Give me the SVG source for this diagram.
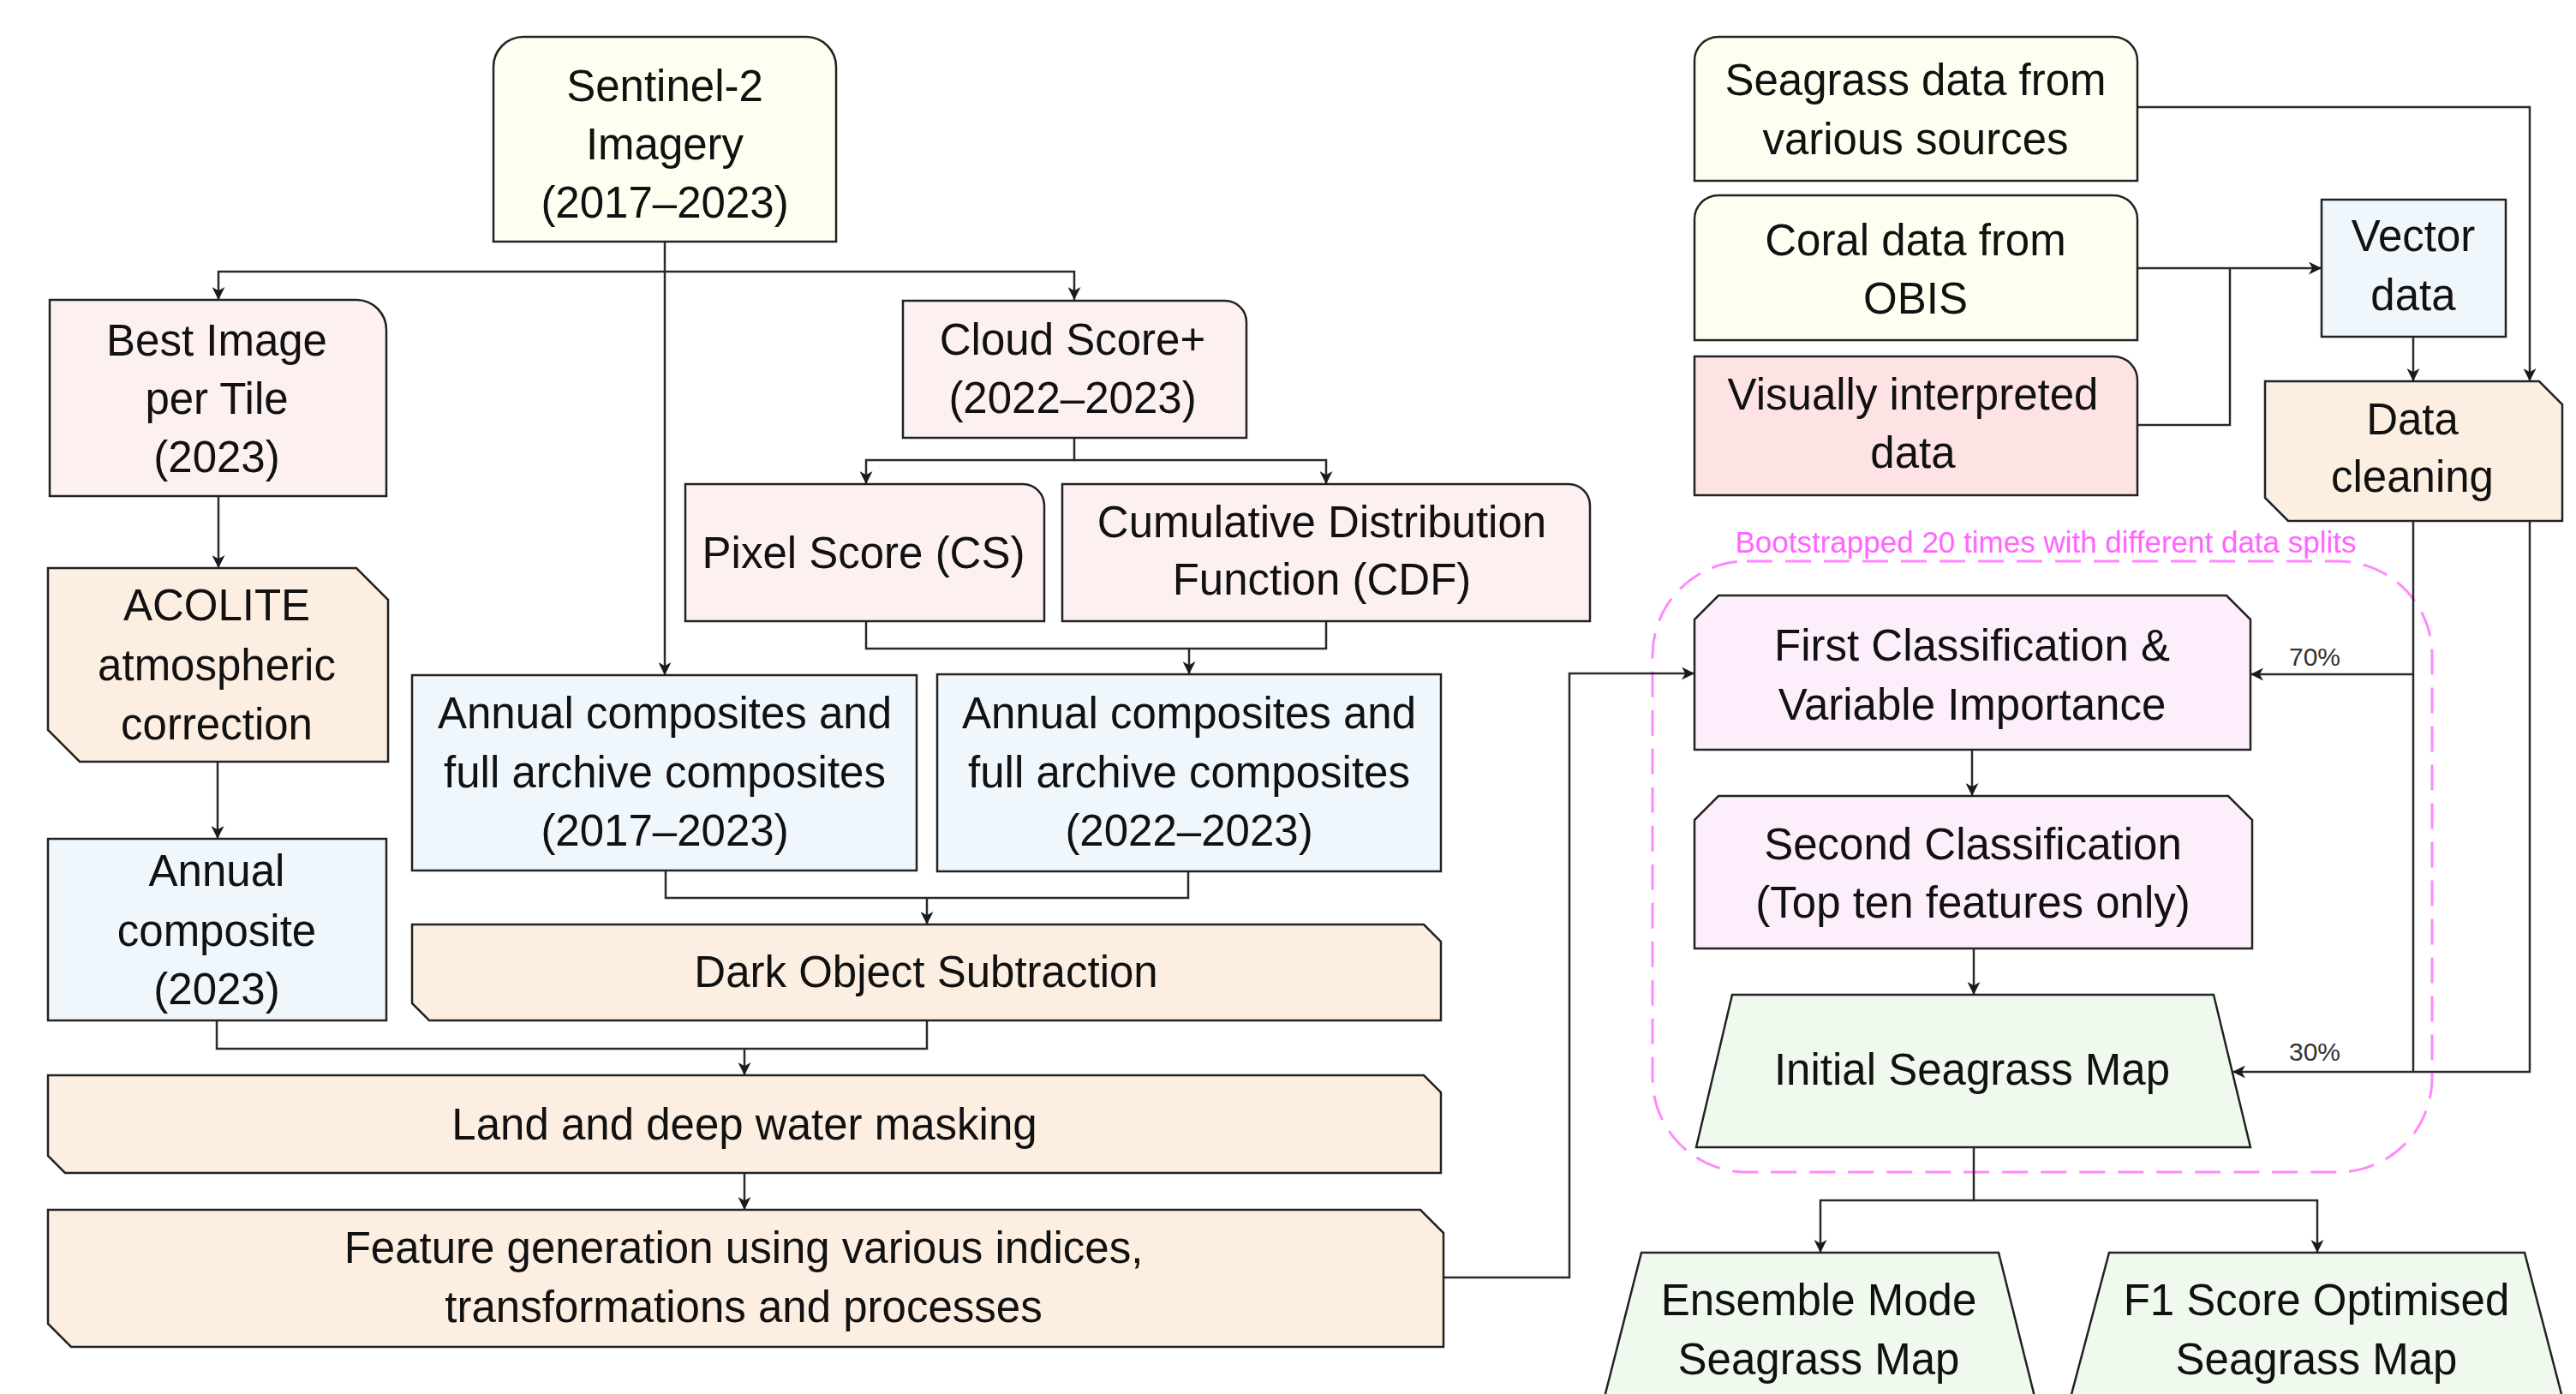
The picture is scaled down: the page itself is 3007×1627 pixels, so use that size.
<svg xmlns="http://www.w3.org/2000/svg" width="3007" height="1627" viewBox="0 0 3007 1627">
<defs>
<style>
.n{stroke:#222;stroke-width:2.5;stroke-linejoin:miter}
.t{font-family:"Liberation Sans",Arial,sans-serif;font-size:51px;fill:#111;text-anchor:middle}
.s{font-family:"Liberation Sans",Arial,sans-serif;font-size:30px;fill:#333;text-anchor:middle}
.yel{fill:#FEFEF1}.pnk{fill:#FDF0F0}.org{fill:#FDEEE2}.blu{fill:#EFF6FC}.red{fill:#FDE3E4}.pur{fill:#FDEEFC}.grn{fill:#EFF9EE}
.c{fill:none;stroke:#2a2a2a;stroke-width:2.5}
.a{marker-end:url(#arr)}
</style>
<marker id="arr" viewBox="0 0 14 14" refX="14" refY="7" markerWidth="15" markerHeight="15" markerUnits="userSpaceOnUse" orient="auto">
<path d="M0,0 L14,7 L0,14 L4,7 Z" fill="#1a1a1a"/>
</marker>
</defs>
<rect width="3007" height="1627" fill="#fff"/>

<g id="bootstrap">
<rect x="1929" y="655" width="910" height="713" rx="110" ry="110" fill="none" stroke="#FF88FF" stroke-width="3" stroke-dasharray="30,15"/>
<text x="2388" y="645" font-family="Liberation Sans, Arial, sans-serif" font-size="35" fill="#FF66FF" text-anchor="middle">Bootstrapped 20 times with different data splits</text>
</g>

<g id="connectors">
<path class="c a" d="M776,282 V317 H255 V350"/>
<path class="c a" d="M776,317 H1254 V350"/>
<path class="c a" d="M776,317 V788"/>
<path class="c a" d="M255,579 V663"/>
<path class="c a" d="M254,889 V979"/>
<path class="c a" d="M1254,511 V537 H1011 V565"/>
<path class="c a" d="M1254,537 H1548 V565"/>
<path class="c" d="M1011,725 V757 H1548 V725"/>
<path class="c a" d="M1388,757 V787"/>
<path class="c" d="M777,1016 V1048 H1387 V1017"/>
<path class="c a" d="M1082,1048 V1079"/>
<path class="c" d="M253,1191 V1224 H1082 V1191"/>
<path class="c a" d="M869,1224 V1255"/>
<path class="c a" d="M869,1369 V1412"/>
<path class="c a" d="M1685,1491 H1832 V786 H1978"/>
<path class="c a" d="M2495,125 H2953 V445"/>
<path class="c a" d="M2495,313 H2710"/>
<path class="c" d="M2495,496 H2603 V313"/>
<path class="c a" d="M2817,393 V445"/>
<path class="c" d="M2817,608 V1251"/>
<path class="c a" d="M2817,787 H2627"/>
<path class="c a" d="M2953,608 V1251 H2606"/>
<path class="c a" d="M2302,875 V929"/>
<path class="c a" d="M2304,1107 V1161"/>
<path class="c a" d="M2304,1339 V1401 H2125 V1462"/>
<path class="c a" d="M2304,1401 H2705 V1462"/>
<text class="s" x="2702" y="777">70%</text>
<text class="s" x="2702" y="1238">30%</text>
</g>

<g id="sentinel">
<path class="n yel" d="M576,282 V78 A35,35 0 0 1 611,43 H941 A35,35 0 0 1 976,78 V282 Z"/>
<text class="t" x="776" y="118">Sentinel-2</text>
<text class="t" x="776" y="186">Imagery</text>
<text class="t" x="776" y="254">(2017–2023)</text>
</g>

<g id="best-image">
<path class="n pnk" d="M58,579 V350 H416 A35,35 0 0 1 451,385 V579 Z"/>
<text class="t" x="253" y="415">Best Image</text>
<text class="t" x="253" y="483">per Tile</text>
<text class="t" x="253" y="551">(2023)</text>
</g>

<g id="acolite">
<path class="n org" d="M56,663 H416 L453,700 V889 H93 L56,852 Z"/>
<text class="t" x="253" y="724">ACOLITE</text>
<text class="t" x="253" y="794">atmospheric</text>
<text class="t" x="253" y="863">correction</text>
</g>

<g id="annual-composite-2023">
<rect class="n blu" x="56" y="979" width="395" height="212"/>
<text class="t" x="253" y="1034">Annual</text>
<text class="t" x="253" y="1104">composite</text>
<text class="t" x="253" y="1172">(2023)</text>
</g>

<g id="cloud-score">
<path class="n pnk" d="M1054,511 V351 H1430 A25,25 0 0 1 1455,376 V511 Z"/>
<text class="t" x="1252" y="414">Cloud Score+</text>
<text class="t" x="1252" y="482">(2022–2023)</text>
</g>

<g id="pixel-score">
<path class="n pnk" d="M800,725 V565 H1194 A25,25 0 0 1 1219,590 V725 Z"/>
<text class="t" x="1008" y="663">Pixel Score (CS)</text>
</g>

<g id="cdf">
<path class="n pnk" d="M1240,725 V565 H1831 A25,25 0 0 1 1856,590 V725 Z"/>
<text class="t" x="1543" y="627">Cumulative Distribution</text>
<text class="t" x="1543" y="694">Function (CDF)</text>
</g>

<g id="annual-2017-2023">
<rect class="n blu" x="481" y="788" width="589" height="228"/>
<text class="t" x="776" y="850">Annual composites and</text>
<text class="t" x="776" y="919">full archive composites</text>
<text class="t" x="776" y="987">(2017–2023)</text>
</g>

<g id="annual-2022-2023">
<rect class="n blu" x="1094" y="787" width="588" height="230"/>
<text class="t" x="1388" y="850">Annual composites and</text>
<text class="t" x="1388" y="919">full archive composites</text>
<text class="t" x="1388" y="987">(2022–2023)</text>
</g>

<g id="dark-object">
<path class="n org" d="M481,1079 H1662 L1682,1099 V1191 H501 L481,1171 Z"/>
<text class="t" x="1081" y="1152">Dark Object Subtraction</text>
</g>

<g id="land-masking">
<path class="n org" d="M56,1255 H1662 L1682,1275 V1369 H76 L56,1349 Z"/>
<text class="t" x="869" y="1330">Land and deep water masking</text>
</g>

<g id="feature-generation">
<path class="n org" d="M56,1412 H1658 L1685,1439 V1572 H83 L56,1545 Z"/>
<text class="t" x="868" y="1474">Feature generation using various indices,</text>
<text class="t" x="868" y="1543">transformations and processes</text>
</g>

<g id="seagrass-data">
<path class="n yel" d="M1978,211 V71 A28,28 0 0 1 2006,43 H2467 A28,28 0 0 1 2495,71 V211 Z"/>
<text class="t" x="2236" y="111">Seagrass data from</text>
<text class="t" x="2236" y="180">various sources</text>
</g>

<g id="coral-data">
<path class="n yel" d="M1978,397 V256 A28,28 0 0 1 2006,228 H2467 A28,28 0 0 1 2495,256 V397 Z"/>
<text class="t" x="2236" y="298">Coral data from</text>
<text class="t" x="2236" y="366">OBIS</text>
</g>

<g id="visual-data">
<path class="n red" d="M1978,578 V416 H2467 A28,28 0 0 1 2495,444 V578 Z"/>
<text class="t" x="2233" y="478">Visually interpreted</text>
<text class="t" x="2233" y="546">data</text>
</g>

<g id="vector-data">
<rect class="n blu" x="2710" y="233" width="215" height="160"/>
<text class="t" x="2817" y="293">Vector</text>
<text class="t" x="2817" y="362">data</text>
</g>

<g id="data-cleaning">
<path class="n org" d="M2644,445 H2964 L2991,472 V608 H2671 L2644,581 Z"/>
<text class="t" x="2816" y="507">Data</text>
<text class="t" x="2816" y="574">cleaning</text>
</g>

<g id="first-classification">
<path class="n pur" d="M1978,875 V723 L2006,695 H2599 L2627,723 V875 Z"/>
<text class="t" x="2302" y="771">First Classification &amp;</text>
<text class="t" x="2302" y="840">Variable Importance</text>
</g>

<g id="second-classification">
<path class="n pur" d="M1978,1107 V957 L2006,929 H2601 L2629,957 V1107 Z"/>
<text class="t" x="2303" y="1003">Second Classification</text>
<text class="t" x="2303" y="1071">(Top ten features only)</text>
</g>

<g id="initial-map">
<path class="n grn" d="M2022,1161 H2584 L2627,1339 H1980 Z"/>
<text class="t" x="2302" y="1266">Initial Seagrass Map</text>
</g>

<g id="ensemble-map">
<path class="n grn" d="M1916,1462 H2333 L2380,1650 H1868 Z"/>
<text class="t" x="2123" y="1535">Ensemble Mode</text>
<text class="t" x="2123" y="1604">Seagrass Map</text>
</g>

<g id="f1-map">
<path class="n grn" d="M2462,1462 H2947 L2996,1650 H2412 Z"/>
<text class="t" x="2704" y="1535">F1 Score Optimised</text>
<text class="t" x="2704" y="1604">Seagrass Map</text>
</g>
</svg>
